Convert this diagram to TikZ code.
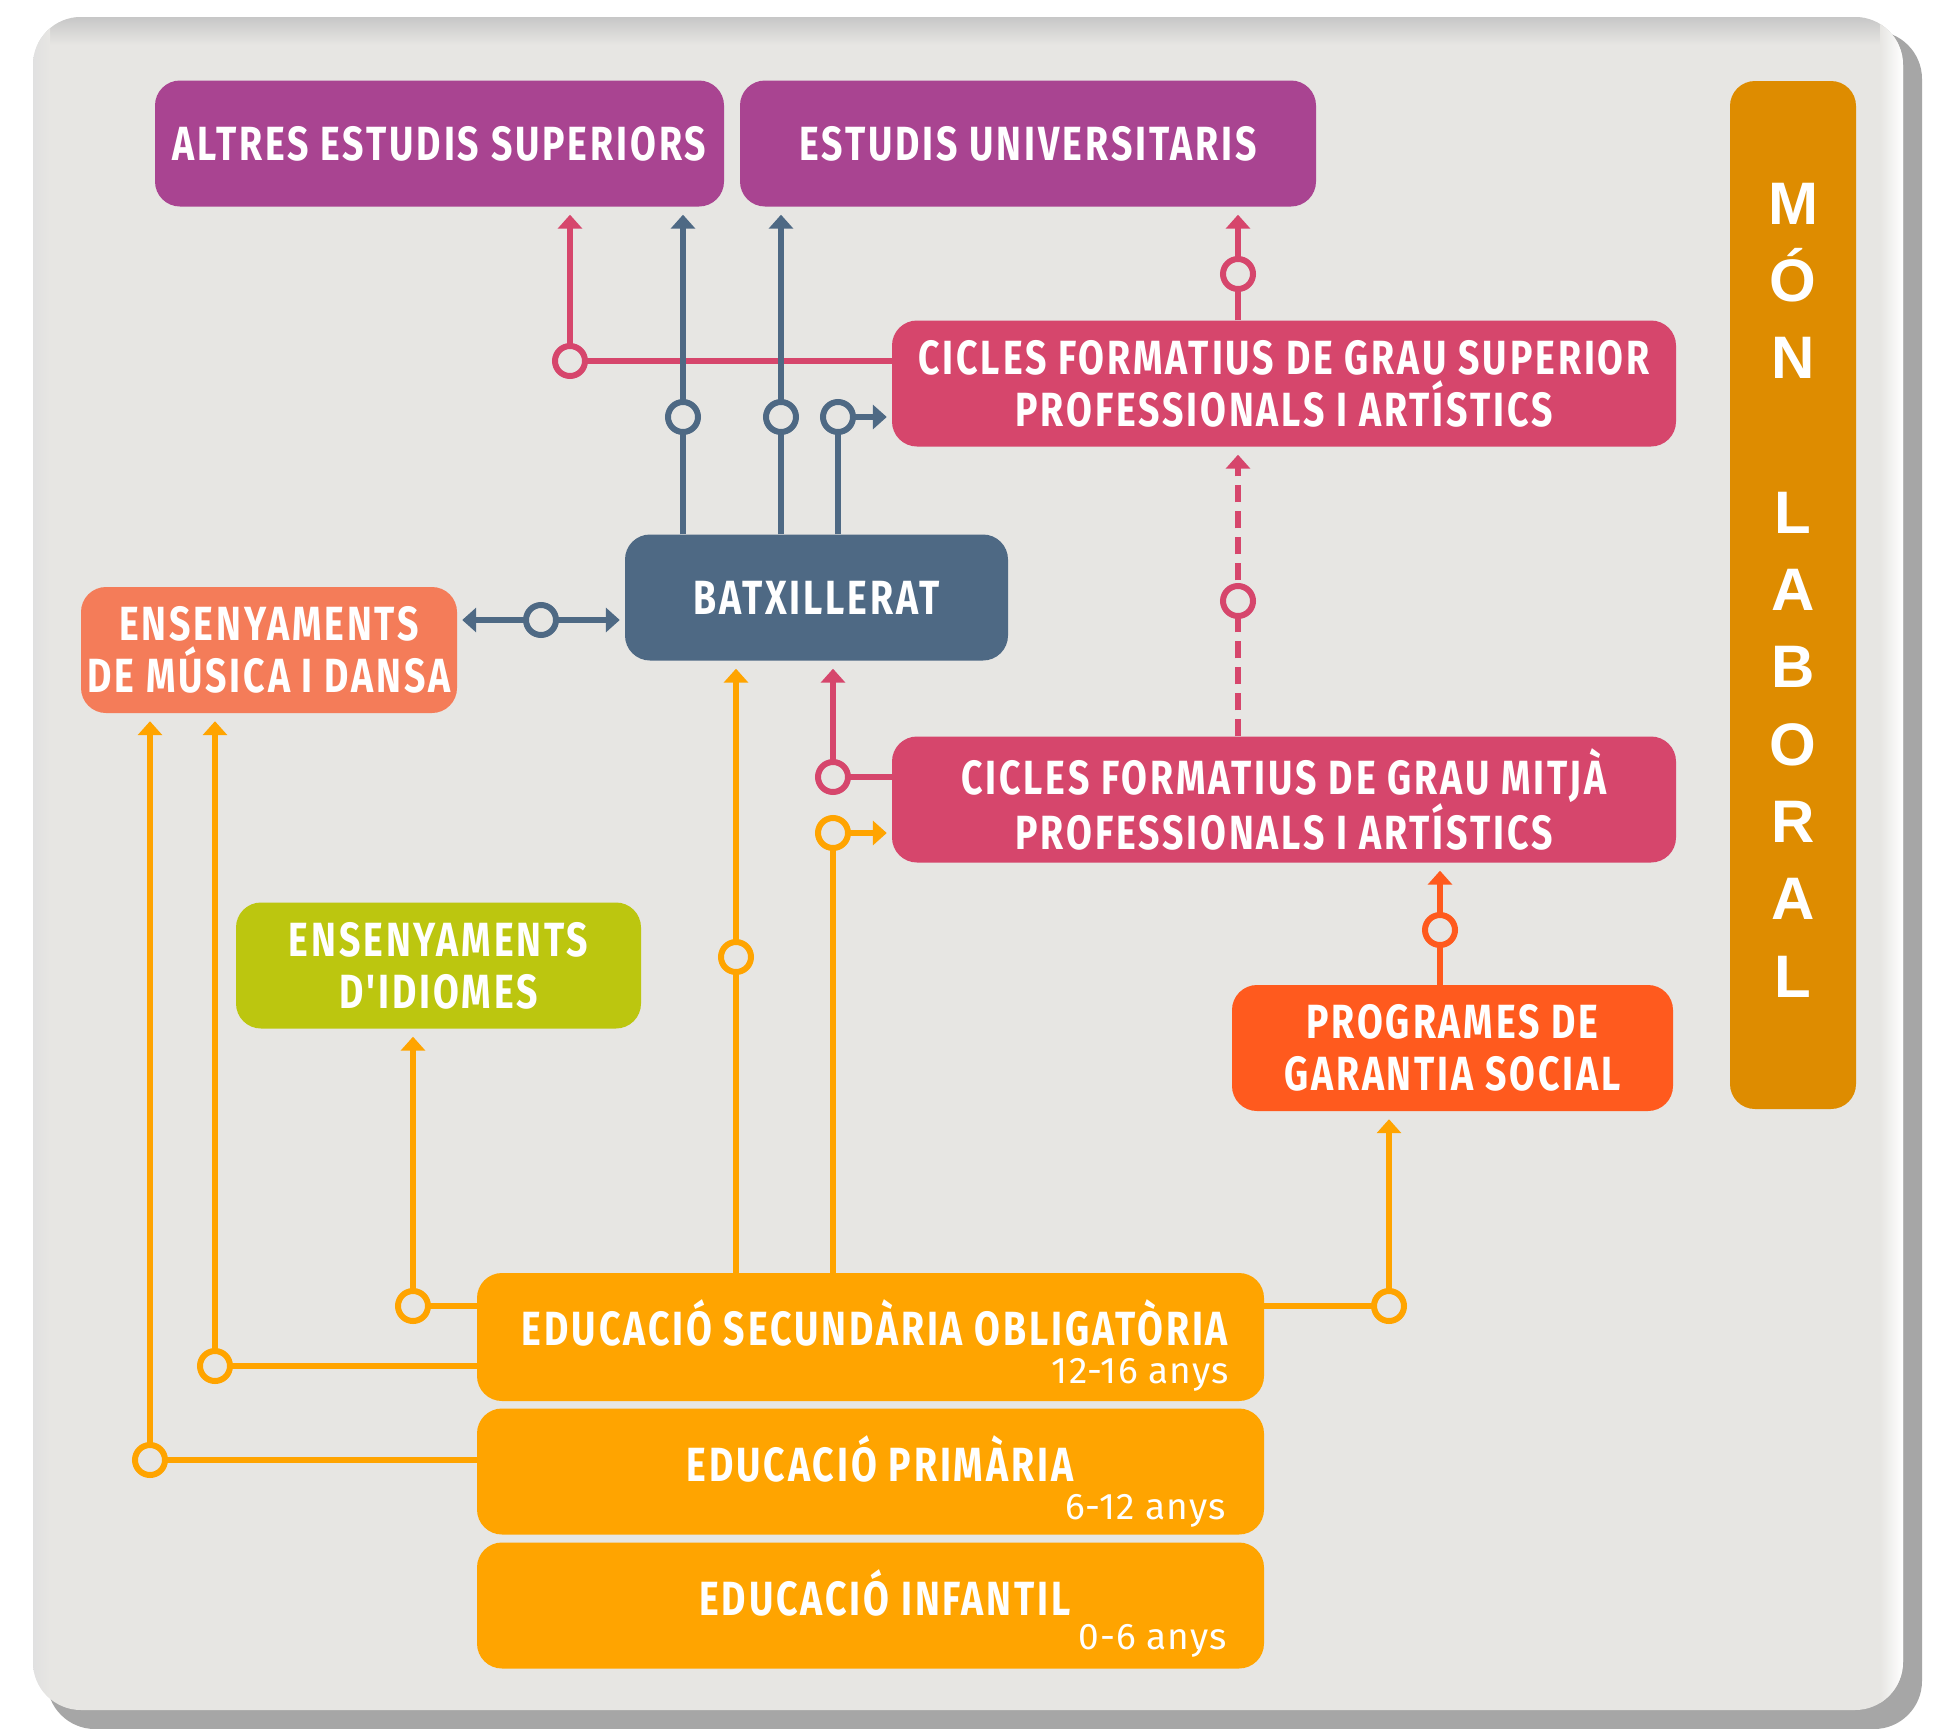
\documentclass[tikz,border=0pt]{standalone}
\usepackage{fontspec}
\usetikzlibrary{arrows.meta,calc}
\newfontfamily\lbl[FakeStretch=0.78,LetterSpace=6]{Fira Sans}
\newfontfamily\agef[LetterSpace=3]{Fira Sans}
\newfontfamily\monf{Liberation Sans}
\definecolor{bgc}{HTML}{E7E6E3}
\definecolor{shc}{HTML}{A6A6A6}
\definecolor{purp}{HTML}{A94491}
\definecolor{pinkc}{HTML}{D6466C}
\definecolor{bluec}{HTML}{4E6984}
\definecolor{salm}{HTML}{F47C59}
\definecolor{limec}{HTML}{BCC60F}
\definecolor{redc}{HTML}{FF5A1E}
\definecolor{orc}{HTML}{FFA400}
\definecolor{monc}{HTML}{DE8C00}
\begin{document}
\begin{tikzpicture}[x=1pt,y=-1pt,
  box/.style={rounded corners=25pt, minimum height=126pt, inner sep=0pt, text=white, align=center,
    font=\lbl\bfseries\fontsize{48}{52}\selectfont},
  ttl/.style={inner sep=0pt, text=white, font=\lbl\bfseries\fontsize{48}{52}\selectfont},
  age/.style={inner sep=0pt, text=white, font=\agef\fontsize{37}{40}\selectfont},
  conn/.style={line width=6.5pt},
  arr/.style={-{Triangle[width=24pt,length=14pt]}, shorten >=8pt},
  harr/.style={-{Triangle[width=24pt,length=14pt]}, shorten >=5pt},
  ring/.style={circle, draw, fill=bgc, line width=6pt, minimum size=30pt, inner sep=0pt},
  dsh/.style={dash pattern=on 17pt off 9pt}]
\useasboundingbox (0,0) rectangle (1947,1729);
\fill[white] (0,0) rectangle (1947,1729);
% panel with shadow
\fill[shc, rounded corners=48pt] (47,31) rectangle (1922,1729);
\fill[bgc, rounded corners=48pt] (33,17) rectangle (1903,1710);
\begin{scope}
  \clip[rounded corners=48pt] (33,17) rectangle (1903,1710);
  \shade[top color=black!22, bottom color=bgc] (33,17) rectangle (1903,45);
  \shade[left color=black!12, right color=bgc] (33,17) rectangle (50,1710);
  \shade[left color=bgc, right color=white] (1880,17) rectangle (1903,1710);
\end{scope}

% boxes
\node[box, fill=purp, minimum width=569pt] (altres) at (439.5,143.5) {ALTRES ESTUDIS SUPERIORS};
\node[box, fill=purp, minimum width=576pt] (univ) at (1028,143.5) {ESTUDIS UNIVERSITARIS};
\node[box, fill=monc, minimum width=126pt, minimum height=1028pt] (mon) at (1793,595) {};
\node[inner sep=0pt, text=white, align=center, font=\monf\bfseries\fontsize{60}{77.3}\selectfont] (montxt) at (1793,590)
  {M\\Ó\\N\\[77.3pt]L\\A\\B\\O\\R\\A\\L};
\node[box, fill=pinkc, minimum width=784pt] (cfgs) at (1284,383.5) {CICLES FORMATIUS DE GRAU SUPERIOR\\PROFESSIONALS I ARTÍSTICS};
\node[box, fill=bluec, minimum width=383pt] (batx) at (816.5,597.5) {BATXILLERAT};
\node[box, fill=salm, minimum width=376pt] (musica) at (269,650) {ENSENYAMENTS\\DE MÚSICA I DANSA};
\node[box, fill=pinkc, minimum width=784pt] (cfgm) at (1284,799.5) {CICLES FORMATIUS DE GRAU MITJÀ\\PROFESSIONALS I ARTÍSTICS};
\node[box, fill=limec, minimum width=405pt] (idiomes) at (438.5,965.5) {ENSENYAMENTS\\D'IDIOMES};
\node[box, fill=redc, minimum width=441pt] (programes) at (1452.5,1048) {PROGRAMES DE\\GARANTIA SOCIAL};
\node[box, fill=orc, minimum width=787pt, minimum height=128pt] (eso) at (870.5,1337) {};
\node[box, fill=orc, minimum width=787pt] (prim) at (870.5,1471.5) {};
\node[box, fill=orc, minimum width=787pt] (inf) at (870.5,1605.5) {};
\node[ttl] (esot) at (875,1323) {EDUCACIÓ SECUNDÀRIA OBLIGATÒRIA};
\node[age, anchor=east] (esoa) at (1229,1375) {12-16 anys};
\node[ttl] (primt) at (880,1459) {EDUCACIÓ PRIMÀRIA};
\node[age, anchor=east] (prima) at (1226,1511) {6-12 anys};
\node[ttl] (inft) at (885,1593) {EDUCACIÓ INFANTIL};
\node[age, anchor=east] (infa) at (1227,1641) {0-6 anys};

% ring positions
\coordinate (k1) at (570,361);
\coordinate (k2) at (683,417);
\coordinate (k3) at (781,417);
\coordinate (k4) at (838,417);
\coordinate (k5) at (1238,274);
\coordinate (k6) at (1238,601);
\coordinate (k7) at (541,620);
\coordinate (k8) at (833,777);
\coordinate (k9) at (833,833);
\coordinate (k10) at (736,957);
\coordinate (k11) at (413,1306);
\coordinate (k12) at (215,1366);
\coordinate (k13) at (150,1460);
\coordinate (k14) at (1389,1306);
\coordinate (k15) at (1440,930);

% connectors
\draw[conn, pinkc, arr] (cfgs.west |- k1) -- (k1) -- (k1 |- altres.south);
\draw[conn, bluec, arr] (k2 |- batx.north) -- (k2 |- altres.south);
\draw[conn, bluec, arr] (k3 |- batx.north) -- (k3 |- univ.south);
\draw[conn, bluec, harr] (k4 |- batx.north) -- (k4) -- (k4 -| cfgs.west);
\draw[conn, pinkc, arr] (k5 |- cfgs.north) -- (k5 |- univ.south);
\draw[conn, pinkc, arr, dsh] (k6 |- cfgm.north) -- (k6 |- cfgs.south);
\draw[conn, bluec, {Triangle[width=24pt,length=14pt]}-{Triangle[width=24pt,length=14pt]}, shorten <=5pt, shorten >=5pt]
  (musica.east |- k7) -- (k7 -| batx.west);
\draw[conn, pinkc, arr] (cfgm.west |- k8) -- (k8) -- (k8 |- batx.south);
\draw[conn, orc, harr] (k9 |- eso.north) -- (k9) -- (k9 -| cfgm.west);
\draw[conn, orc, arr] (k10 |- eso.north) -- (k10 |- batx.south);
\draw[conn, orc, arr] (eso.west |- k11) -- (k11) -- (k11 |- idiomes.south);
\draw[conn, orc, arr] (eso.west |- k12) -- (k12) -- (k12 |- musica.south);
\draw[conn, orc, arr] (prim.west |- k13) -- (k13) -- (k13 |- musica.south);
\draw[conn, orc, arr] (eso.east |- k14) -- (k14) -- (k14 |- programes.south);
\draw[conn, redc, arr] (k15 |- programes.north) -- (k15 |- cfgm.south);

% rings
\node[ring, draw=pinkc] (r1) at (k1) {};
\node[ring, draw=bluec] (r2) at (k2) {};
\node[ring, draw=bluec] (r3) at (k3) {};
\node[ring, draw=bluec] (r4) at (k4) {};
\node[ring, draw=pinkc] (r5) at (k5) {};
\node[ring, draw=pinkc] (r6) at (k6) {};
\node[ring, draw=bluec] (r7) at (k7) {};
\node[ring, draw=pinkc] (r8) at (k8) {};
\node[ring, draw=orc] (r9) at (k9) {};
\node[ring, draw=orc] (r10) at (k10) {};
\node[ring, draw=orc] (r11) at (k11) {};
\node[ring, draw=orc] (r12) at (k12) {};
\node[ring, draw=orc] (r13) at (k13) {};
\node[ring, draw=orc] (r14) at (k14) {};
\node[ring, draw=redc] (r15) at (k15) {};
\end{tikzpicture}
\end{document}
